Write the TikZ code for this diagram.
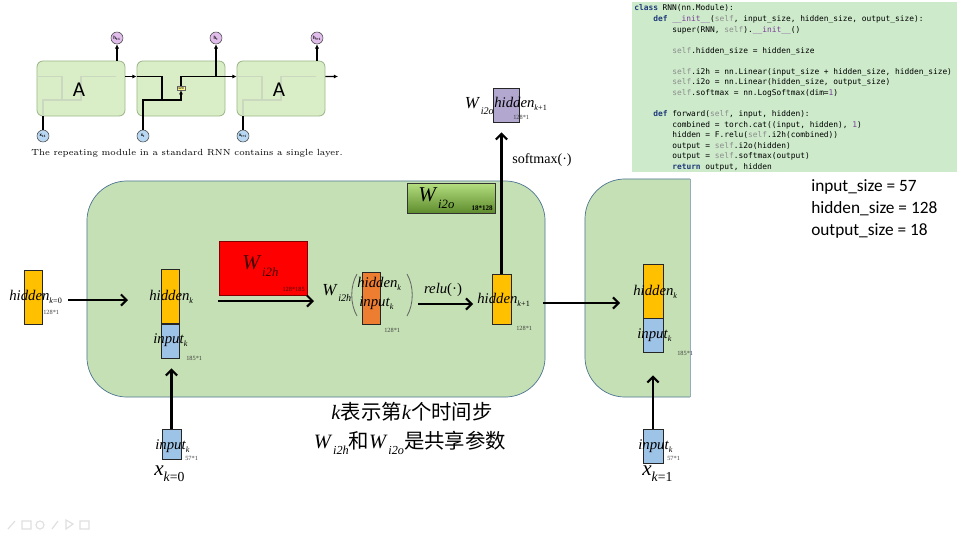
\documentclass[tikz,border=0pt]{standalone}
\usepackage{fontspec}
\setmainfont{Liberation Serif}
\setsansfont{Carlito}
\setmonofont{DejaVu Sans Mono}
\newfontfamily\cjk{Noto Sans CJK SC}
\newfontfamily\lmroman{Latin Modern Roman}
\usepackage{xcolor}
\usetikzlibrary{arrows.meta,calc,positioning}

\definecolor{blockgreen}{HTML}{C5E0B4}
\definecolor{blockline}{HTML}{4E7592}
\definecolor{vecgold}{HTML}{FFC000}
\definecolor{vecblue}{HTML}{9DC3E6}
\definecolor{vecorange}{HTML}{ED7D31}
\definecolor{veclilac}{HTML}{B1A7CF}
\definecolor{codebg}{HTML}{CDEBCB}
\definecolor{kwblue}{HTML}{1F3A7A}
\definecolor{selfgray}{HTML}{8C8C8C}
\definecolor{dunpurple}{HTML}{7D3C98}
\definecolor{cellgreen}{HTML}{D9EEC6}
\definecolor{cellline}{HTML}{9FB88C}
\definecolor{hpurple}{HTML}{E0BDEB}
\definecolor{xblue}{HTML}{B7D7F2}
\definecolor{wotop}{HTML}{B2DC7E}
\definecolor{wobot}{HTML}{5E8C2C}

\newcommand\vv[2]{\textit{#1}\raisebox{-0.5ex}{\scalebox{0.55}{#2}}}
\newcommand\Wsub[1]{\textit{W}\kern0.5pt\raisebox{-0.7ex}{\scalebox{0.6}{\textit{#1}}}}
\newcommand\kw[1]{\textcolor{kwblue}{\bfseries #1}}
\newcommand\slf{\textcolor{selfgray}{self}}
\newcommand\dun[1]{\textcolor{dunpurple}{#1}}

\begin{document}
\begin{tikzpicture}[x=0.025cm,y=-0.025cm,
  block/.style={draw=blockline,line width=0.5pt,fill=blockgreen,rounded corners=1cm},
  vec/.style={draw=black!85,line width=0.6pt,inner sep=0pt,minimum width=0.45cm},
  lab/.style={inner sep=0pt,anchor=west,font=\fontsize{10.5}{11}\selectfont},
  dim/.style={inner sep=0pt,anchor=west,font=\fontsize{4.5}{5}\selectfont,text=black!75},
  flow/.style={line width=1.5pt,-{Straight Barb[length=4pt,width=8pt]}},
  paren/.style={draw=black!60,line width=0.6pt},
  cell/.style={draw=cellline,fill=cellgreen,rounded corners=0.15cm,minimum width=2.2cm,minimum height=1.375cm,line width=0.6pt},
  hcirc/.style={circle,draw=black!70,fill=hpurple,minimum size=0.3cm,inner sep=0pt,font=\fontsize{3.5}{4}\sffamily\bfseries},
  xcirc/.style={hcirc,fill=xblue},
  wire/.style={line width=1pt},
  sarr/.style={wire,-{Latex[length=3pt,width=3pt]}},
  faint/.style={draw=cellline!55,line width=0.8pt},
  code/.style={inner sep=0pt,anchor=west,font=\ttfamily\fontsize{5.6}{6}\selectfont},
  param/.style={inner sep=0pt,anchor=west,font=\sffamily\fontsize{12.3}{13}\selectfont},
  wbig/.style={inner sep=0pt,anchor=west,font=\fontsize{15}{15}\selectfont}
]
\fill[white] (0,0) rectangle (960,540);
\useasboundingbox (0,0) rectangle (960,540);

% chain thumbnail
\foreach \n/\cx in {1/81,2/181,3/281}
  \node[cell] (A\n) at (\cx,88.5) {};
\foreach \n/\dx in {1/-100,3/100}{
  \draw[faint] ([yshift=0.3cm]A\n.west) -| ({162+\dx},100) -| ({181+\dx},76.5) -- ({216+\dx},76.5);
  \draw[faint] ({143+\dx},116) -- ({143+\dx},100) -- ({162+\dx},100);
}
\node[font=\fontsize{15}{15}\sffamily] (la1) at (79,90) {A};
\node[font=\fontsize{15}{15}\sffamily] (la3) at (279,90) {A};
\node[hcirc] (h1) at (117,38) {h\textsubscript{t-1}};
\node[hcirc] (h2) at (216,38) {h\textsubscript{t}};
\node[hcirc] (h3) at (317,38) {h\textsubscript{t+1}};
\node[xcirc] (x1) at (43,136) {x\textsubscript{t-1}};
\node[xcirc] (x2) at (143,136) {x\textsubscript{t}};
\node[xcirc] (x3) at (243,136) {x\textsubscript{t+1}};
\node[draw=black!60,fill=yellow!45,inner sep=0.5pt,font=\fontsize{2.5}{3}\sffamily] (T) at (181,88) {tanh};
\coordinate (j2) at (162,100);
\coordinate (o2) at (216,76.5);
\coordinate (e3) at (338,76.5);
\draw[sarr] ([yshift=0.3cm]A1.east) -- ([yshift=0.3cm]A2.west);
\draw[wire] ([yshift=0.3cm]A2.west) -| (j2);
\draw[wire] (x2.north) |- (j2);
\draw[sarr] (j2) -| (T.south);
\draw[sarr] (T.north) |- ([yshift=0.3cm]A3.west);
\draw[sarr] (o2) -- (h2.south);
\draw[sarr] ([yshift=0.3cm]A3.east) -- (e3);
\draw[sarr] (h1 |- A1.north) -- (h1.south);
\draw[sarr] (h3 |- A3.north) -- (h3.south);
\draw[wire] (x1.north) -- (x1 |- A1.south);
\draw[wire] (x3.north) -- (x3 |- A3.south);
\node[inner sep=0pt,font=\lmroman\fontsize{6.3}{7}\selectfont] (cap) at (187,153) {The repeating module in a standard RNN contains a single layer.};

% code
\node[fill=codebg,inner sep=0pt,minimum width=8.125cm,minimum height=4.25cm] (codebox) at (794.5,87) {};
\foreach \yy/\ind/\txt [count=\i] in {
  8/0/{\kw{class} RNN(nn.Module):},
  19/4/{\kw{def} \dun{\_\_init\_\_}(\slf, input\_size, hidden\_size, output\_size):},
  30/8/{super(RNN, \slf).\dun{\_\_init\_\_}()},
  51/8/{\slf.hidden\_size = hidden\_size},
  72/8/{\slf.i2h = nn.Linear(input\_size + hidden\_size, hidden\_size)},
  82.5/8/{\slf.i2o = nn.Linear(hidden\_size, output\_size)},
  93/8/{\slf.softmax = nn.LogSoftmax(dim=\dun{1})},
  114/4/{\kw{def} forward(\slf, input, hidden):},
  125/8/{combined = torch.cat((input, hidden), \dun{1})},
  135.5/8/{hidden = F.relu(\slf.i2h(combined))},
  146/8/{output = \slf.i2o(hidden)},
  156.5/8/{output = \slf.softmax(output)},
  167/8/{\kw{return} output, hidden}}
  \node[code] (c\i) at ({634+\ind*4.75},\yy) {\txt};

\node[param] (p1) at (811,187) {input\_size = 57};
\node[param] (p2) at (811,209) {hidden\_size = 128};
\node[param] (p3) at (811,231) {output\_size = 18};

% blocks
\node[block,minimum width=11.45cm,minimum height=5.4cm] (blk1) at (316,289) {};
\begin{scope}
  \clip (580,170) rectangle (690,400);
  \node[block,minimum width=4.4cm,minimum height=5.45cm] (blk2) at (673,288) {};
\end{scope}
\draw[blockline!60,line width=0.4pt] (blk2.north -| 690,0) -- (blk2.south -| 690,0);

\node[draw=black!80,line width=0.6pt,inner sep=0pt,top color=wotop,bottom color=wobot,minimum width=2.18cm,minimum height=0.73cm] (wo) at (451.5,198.5) {};
\node[wbig] (wolab) at (418,198) {\Wsub{i2o}};
\node[dim,anchor=east,text=black,font=\fontsize{5}{5}\selectfont\bfseries] (wodim) at (493,208) {18*128};

% step k=0
\node[vec,fill=vecgold,minimum height=1.35cm] (h0) at (33,297) {};
\node[lab] (h0lab) at (9,297) {\vv{hidden}{\textit{k}=0}};
\node[dim] (h0dim) at (43,312) {128*1};
\coordinate (a1s) at (68,300);
\coordinate (a1e) at (128,300);
\draw[flow] (a1s) -- (a1e);

\node[vec,fill=vecgold,minimum height=1.33cm] (hk) at (170,296.5) {};
\node[vec,fill=vecblue,minimum height=0.85cm,below=0pt of hk] (ik) {};
\node[lab] (hklab) at (149,297) {\vv{hidden}{\textit{k}}};
\node[lab] (iklab) at (153,340) {\vv{input}{\textit{k}}};
\node[dim] (ikdim) at (186,358) {185*1};

\node[draw=red!50!black,line width=0.6pt,fill=red,inner sep=0pt,minimum width=2.2cm,minimum height=1.35cm] (wh) at (263,268) {};
\node[wbig,text=red!25!black] (whlab) at (242,266) {\Wsub{i2h}};
\node[dim,anchor=east,text=red!30!black] (whdim) at (305,289) {128*185};
\coordinate (a2s) at (218,301);
\coordinate (a2e) at (314,301);
\draw[flow] (a2s) -- (a2e);

\node[lab,font=\fontsize{12}{12}\selectfont] (wexp) at (322,293) {\Wsub{i2h}};
\node[vec,fill=vecorange,minimum height=1.28cm] (cat) at (371,298.5) {};
\draw[paren] (357,274) .. controls (350,286) and (350,304) .. (357,316);
\draw[paren] (407,274) .. controls (414,286) and (414,304) .. (407,316);
\node[lab] (cathlab) at (357,284) {\vv{hidden}{\textit{k}}};
\node[lab] (catilab) at (359,303) {\vv{input}{\textit{k}}};
\node[dim] (catdim) at (384,330) {128*1};

\node[inner sep=0pt,font=\fontsize{10.5}{11}\selectfont] (relu) at (443,290) {\textit{relu}(·)};
\coordinate (a3s) at (418,304);
\coordinate (a3e) at (473,304);
\draw[flow] (a3s) -- (a3e);

\node[vec,fill=vecgold,minimum width=0.475cm,minimum height=1.23cm] (hk1) at (501.5,299.5) {};
\node[lab] (hk1lab) at (477,300) {\vv{hidden}{\textit{k}+1}};
\node[dim] (hk1dim) at (516,328) {128*1};

\node[vec,fill=veclilac,minimum width=0.63cm,minimum height=0.85cm] (out) at (506.5,105) {};
\node[lab,anchor=east,font=\fontsize{12}{12}\selectfont] (wolab2) at (494,106) {\Wsub{i2o}};
\node[lab] (outlab) at (494,104) {\vv{hidden}{\textit{k}+1}};
\node[dim] (outdim) at (513,117) {128*1};
\draw[flow,shorten >=0.25cm] (hk1.north) -- (hk1.north |- out.south);
\node[inner sep=0pt,anchor=west,font=\fontsize{10}{10}\selectfont] (smax) at (512,160) {softmax(·)};

\coordinate (a5s) at (543,303);
\coordinate (a5e) at (620,303);
\draw[flow] (a5s) -- (a5e);

% step k=1
\node[vec,fill=vecgold,minimum width=0.5cm,minimum height=1.35cm] (rhk) at (653,291) {};
\node[vec,fill=vecblue,minimum width=0.5cm,minimum height=0.85cm,below=0pt of rhk] (rik) {};
\node[lab] (rhklab) at (633,292) {\vv{hidden}{\textit{k}}};
\node[lab] (riklab) at (637,335) {\vv{input}{\textit{k}}};
\node[dim] (rikdim) at (677,353) {185*1};

% inputs
\node[vec,fill=vecblue,minimum width=0.475cm,minimum height=0.75cm] (in0) at (171.5,444) {};
\node[lab] (in0lab) at (155,446) {\vv{input}{\textit{k}}};
\node[dim] (in0dim) at (185,458) {57*1};
\node[inner sep=0pt,anchor=west,font=\fontsize{15}{15}\selectfont] (xk0) at (154,474) {\textit{x}\raisebox{-0.6ex}{\scalebox{0.65}{\textit{k}=0}}};
\draw[flow,shorten >=0.25cm] (in0.north) -- (in0.north |- ik.south);

\node[vec,fill=vecblue,minimum width=0.5cm,minimum height=0.85cm] (in1) at (653,446) {};
\node[lab] (in1lab) at (638,446) {\vv{input}{\textit{k}}};
\node[dim] (in1dim) at (667,458) {57*1};
\node[inner sep=0pt,anchor=west,font=\fontsize{15}{15}\selectfont] (xk1) at (642,474) {\textit{x}\raisebox{-0.6ex}{\scalebox{0.65}{\textit{k}=1}}};
\draw[flow,shorten >=0.55cm] (in1.north) -- (rik.south);

% notes
\node[inner sep=0pt,font=\fontsize{14.5}{16}\selectfont] (note1) at (412,412) {\textit{k}{\cjk 表示第}\textit{k}{\cjk 个时间步}};
\node[inner sep=0pt,font=\fontsize{14.5}{16}\selectfont] (note2) at (410,443) {\Wsub{i2h}{\cjk 和}\Wsub{i2o}{\cjk 是共享参数}};

% toolbar
\draw[gray!25,line width=0.8pt] (8,529) -- (15,521) (22,521) rectangle (31,529) (40,525) circle (4) (52,529) -- (58,521) (66,520) -- (66,529) -- (73,524) -- cycle (80,521) rectangle (89,529);
\end{tikzpicture}
\end{document}
